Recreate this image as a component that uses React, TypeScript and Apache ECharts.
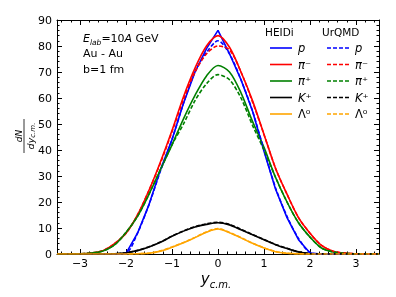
import React, { useEffect, useRef } from "react";
import * as echarts from "echarts";

// rapidity grid (y_c.m.)
const X = [-3.5, -3.25, -3, -2.75, -2.5, -2.25, -2, -1.75, -1.5, -1.25, -1, -0.75, -0.5, -0.25, 0, 0.25, 0.5, 0.75, 1, 1.25, 1.5, 1.75, 2, 2.25, 2.5, 2.75, 3, 3.25, 3.5];

// HEIDi (solid)
const pHeidi = [0, 0, 0, 0, 0, 0, 0.2, 8, 19, 32.5, 44, 58, 70, 79, 86, 77, 67, 55, 39.5, 25, 14, 5.5, 0.4, 0, 0, 0, 0, 0, 0];
const pimHeidi = [0, 0, 0.1, 0.4, 1.3, 4, 8, 15, 24.5, 35.5, 47.5, 60.5, 71.5, 80, 84, 79.5, 70, 59, 46, 33, 23, 14, 8, 3.3, 1.1, 0.35, 0.1, 0, 0];
const pipHeidi = [0, 0, 0.1, 0.4, 1.2, 3.5, 8.3, 14.5, 23, 32.5, 42, 52, 61, 68.5, 72.5, 70, 62, 51, 41, 29.5, 20, 12, 6.5, 2.3, 0.8, 0.25, 0.05, 0, 0];
const kHeidi = [0, 0, 0, 0, 0, 0.1, 0.5, 1.3, 2.7, 4.5, 6.8, 8.8, 10.4, 11.4, 12, 11.2, 9.3, 7.4, 5.5, 3.6, 2.1, 0.8, 0.2, 0.05, 0, 0, 0, 0, 0];
const lHeidi = [0, 0, 0, 0, 0, 0, 0, 0.1, 0.3, 1.1, 2.6, 4.3, 6.3, 8.4, 9.6, 8.2, 6.2, 4.1, 2.3, 0.9, 0.3, 0.05, 0, 0, 0, 0, 0, 0, 0];

// UrQMD (dashed)
const pUrqmd = [0, 0, 0, 0, 0, 0, 0.3, 8, 19, 32, 44, 58, 70, 77.5, 82, 77, 67, 55, 40, 25.5, 14.5, 6, 0.6, 0, 0, 0, 0, 0, 0];
const pimUrqmd = [0, 0, 0.1, 0.4, 1.3, 4, 8, 15, 24.5, 35, 47, 59.5, 70, 77, 80, 78.5, 70, 58.5, 46, 33, 23, 14, 8, 3.3, 1.1, 0.35, 0.1, 0, 0];
const pipUrqmd = [0, 0, 0.1, 0.4, 1.2, 3.5, 8.3, 14.5, 23, 32.5, 42, 50, 59, 65.5, 69, 67, 60, 49.5, 40, 29.5, 20, 12, 6.5, 2.3, 0.8, 0.25, 0.05, 0, 0];
const kUrqmd = [0, 0, 0, 0, 0, 0.1, 0.5, 1.4, 2.8, 4.6, 6.9, 8.9, 10.5, 11.6, 12.2, 11.4, 9.5, 7.5, 5.6, 3.7, 2.2, 0.9, 0.2, 0.05, 0, 0, 0, 0, 0];
const lUrqmd = [0, 0, 0, 0, 0, 0, 0, 0.1, 0.3, 1.2, 2.7, 4.4, 6.4, 8.5, 9.8, 8.3, 6.3, 4.2, 2.4, 1, 0.3, 0.05, 0, 0, 0, 0, 0, 0, 0];

const X_MAJOR = [-3, -2, -1, 0, 1, 2, 3];
const LABELS = ["{i|p}", "{i|π⁻}", "{i|π⁺}", "{i|K⁺}", "Λ⁰"];
const COLORS = ["#0000ff", "#ff0000", "#008000", "#000000", "#ffa500"];

const FONT = "DejaVu Sans";
const SOLID_ICON = "path://M0,0H22V1.6H0Z";
const DASH_ICON = "path://M0,0h4v1.6h-4z M6,0h4v1.6h-4z M12,0h4v1.6h-4z M18,0h4v1.6h-4z";

export default function App() {
  const ref = useRef<HTMLDivElement>(null);
  useEffect(() => {
    if (!ref.current) return;
    const chart = echarts.init(ref.current, null, { renderer: "svg" });

    const xMinor: number[] = [];
    for (let k = -17; k <= 17; k++) {
      if (k % 5 !== 0) xMinor.push(Math.round(k * 20) / 100);
    }

    const heidi = [pHeidi, pimHeidi, pipHeidi, kHeidi, lHeidi];
    const urqmd = [pUrqmd, pimUrqmd, pipUrqmd, kUrqmd, lUrqmd];
    const hNames = ["H_p", "H_pim", "H_pip", "H_k", "H_l"];
    const uNames = ["U_p", "U_pim", "U_pip", "U_k", "U_l"];
    const nameToLabel: Record<string, string> = {};
    hNames.forEach((n, i) => (nameToLabel[n] = LABELS[i]));
    uNames.forEach((n, i) => (nameToLabel[n] = LABELS[i]));

    const mk = (name: string, ys: number[], color: string, dashed: boolean, smooth: number | boolean) => ({
      name,
      type: "line",
      xAxisIndex: 0,
      yAxisIndex: 0,
      data: X.map((x, i) => [x, ys[i]]),
      symbol: "none",
      smooth,
      lineStyle: { color, width: 1.6, type: dashed ? [4, 2] : "solid" },
      itemStyle: { color },
    });

    const series: any[] = [];
    heidi.forEach((ys, i) => series.push(mk(hNames[i], ys, COLORS[i], false, i === 0 ? false : 0.3)));
    urqmd.forEach((ys, i) => series.push(mk(uNames[i], ys, COLORS[i], true, 0.3)));

    const baseX = {
      type: "value",
      min: -3.5,
      max: 3.5,
      splitLine: { show: false },
    };
    const legendText = {
      fontFamily: FONT,
      fontSize: 11.5,
      color: "#000",
      padding: [0, 0, 0, 1],
      rich: { i: { fontFamily: FONT, fontSize: 11.5, fontStyle: "italic", color: "#000" } },
    };
    const legendBase = {
      orient: "vertical",
      top: 37,
      itemWidth: 22,
      itemHeight: 1.6,
      itemGap: 4.5,
      formatter: (n: string) => nameToLabel[n],
      textStyle: legendText,
      selectedMode: false,
    };

    const option: any = {
      animation: false,
      grid: { left: 57, right: 17, top: 20, bottom: 43 },
      xAxis: [
        {
          ...baseX,
          position: "bottom",
          axisLine: { onZero: false, lineStyle: { color: "#000", width: 1 } },
          axisTick: { inside: true, length: 5, customValues: X_MAJOR, lineStyle: { color: "#000" } },
          axisLabel: {
            customValues: X_MAJOR,
            color: "#000",
            fontFamily: FONT,
            fontSize: 11,
            margin: 4,
            formatter: (v: number) => (v < 0 ? "\u2212" + Math.abs(v) : String(v)),
          },
        },
        {
          ...baseX,
          position: "bottom",
          axisLine: { show: false, onZero: false },
          axisTick: { inside: true, length: 2.5, customValues: xMinor, lineStyle: { color: "#000" } },
          axisLabel: { show: false },
        },
        {
          ...baseX,
          position: "top",
          axisLine: { onZero: false, lineStyle: { color: "#000", width: 1 } },
          axisTick: { inside: true, length: 5, customValues: X_MAJOR, lineStyle: { color: "#000" } },
          axisLabel: { show: false },
        },
        {
          ...baseX,
          position: "top",
          axisLine: { show: false, onZero: false },
          axisTick: { inside: true, length: 2.5, customValues: xMinor, lineStyle: { color: "#000" } },
          axisLabel: { show: false },
        },
      ],
      yAxis: [
        {
          type: "value",
          min: 0,
          max: 90,
          interval: 10,
          position: "left",
          splitLine: { show: false },
          axisLine: { show: true, onZero: false, lineStyle: { color: "#000", width: 1 } },
          axisTick: { show: true, inside: true, length: 5, lineStyle: { color: "#000" } },
          minorTick: { show: true, splitNumber: 5, length: 2.5, lineStyle: { color: "#000" } },
          axisLabel: { color: "#000", fontFamily: FONT, fontSize: 11, margin: 5 },
        },
        {
          type: "value",
          min: 0,
          max: 90,
          interval: 10,
          position: "right",
          splitLine: { show: false },
          axisLine: { show: true, onZero: false, lineStyle: { color: "#000", width: 1 } },
          axisTick: { show: true, inside: true, length: 5, lineStyle: { color: "#000" } },
          minorTick: { show: true, splitNumber: 5, length: 2.5, lineStyle: { color: "#000" } },
          axisLabel: { show: false },
        },
      ],
      legend: [
        {
          ...legendBase,
          left: 265,
          data: hNames.map((n) => ({ name: n, icon: SOLID_ICON })),
        },
        {
          ...legendBase,
          left: 322,
          data: uNames.map((n) => ({ name: n, icon: DASH_ICON })),
        },
      ],
      graphic: [
        {
          type: "text",
          left: 265,
          top: 26,
          style: { text: "HEIDi", fill: "#000", fontFamily: FONT, fontSize: 10.5 },
        },
        {
          type: "text",
          left: 322,
          top: 26,
          style: { text: "UrQMD", fill: "#000", fontFamily: FONT, fontSize: 10.5 },
        },
        {
          type: "text",
          x: 83,
          y: 38,
          style: {
            text: "{e|E}{s|lab}{n|=10}{e|A}{n| GeV}",
            textVerticalAlign: "middle",
            fill: "#000",
            rich: {
              e: { fontFamily: FONT, fontSize: 11, fontStyle: "italic", lineHeight: 16, verticalAlign: "middle" },
              n: { fontFamily: FONT, fontSize: 11, lineHeight: 16, verticalAlign: "middle" },
              s: { fontFamily: FONT, fontSize: 7.5, fontStyle: "italic", lineHeight: 8, verticalAlign: "bottom" },
            },
          },
        },
        {
          type: "text",
          x: 83,
          y: 53.5,
          style: { text: "Au - Au", textVerticalAlign: "middle", fill: "#000", fontFamily: FONT, fontSize: 11 },
        },
        {
          type: "text",
          x: 83,
          y: 69,
          style: { text: "b=1 fm", textVerticalAlign: "middle", fill: "#000", fontFamily: FONT, fontSize: 11 },
        },
        {
          type: "text",
          x: 216,
          y: 279,
          style: {
            text: "{a|y}{b|c.m.}",
            textAlign: "center",
            textVerticalAlign: "middle",
            fill: "#000",
            rich: {
              a: { fontFamily: FONT, fontSize: 15, fontStyle: "italic", lineHeight: 20, verticalAlign: "middle" },
              b: { fontFamily: FONT, fontSize: 10, fontStyle: "italic", lineHeight: 10, verticalAlign: "bottom" },
            },
          },
        },
        {
          type: "group",
          x: 24,
          y: 136,
          rotation: Math.PI / 2,
          children: [
            {
              type: "text",
              x: 0,
              y: -5,
              style: {
                text: "dN",
                textAlign: "center",
                textVerticalAlign: "middle",
                fill: "#000",
                fontFamily: FONT,
                fontSize: 9,
                fontStyle: "italic",
              },
            },
            {
              type: "line",
              shape: { x1: -17, y1: 0, x2: 17, y2: 0 },
              style: { stroke: "#000", lineWidth: 0.8 },
            },
            {
              type: "text",
              x: 0,
              y: 6,
              style: {
                text: "{a|dy}{b|c.m.}",
                textAlign: "center",
                textVerticalAlign: "middle",
                fill: "#000",
                rich: {
                  a: { fontFamily: FONT, fontSize: 9.5, fontStyle: "italic", lineHeight: 13, verticalAlign: "middle" },
                  b: { fontFamily: FONT, fontSize: 7, fontStyle: "italic", lineHeight: 7, verticalAlign: "bottom" },
                },
              },
            },
          ],
        },
      ],
      series,
    };
    chart.setOption(option);
    return () => chart.dispose();
  }, []);
  return <div ref={ref} style={{ position: "fixed", left: 0, top: 0, width: 396, height: 297 }} />;
}
